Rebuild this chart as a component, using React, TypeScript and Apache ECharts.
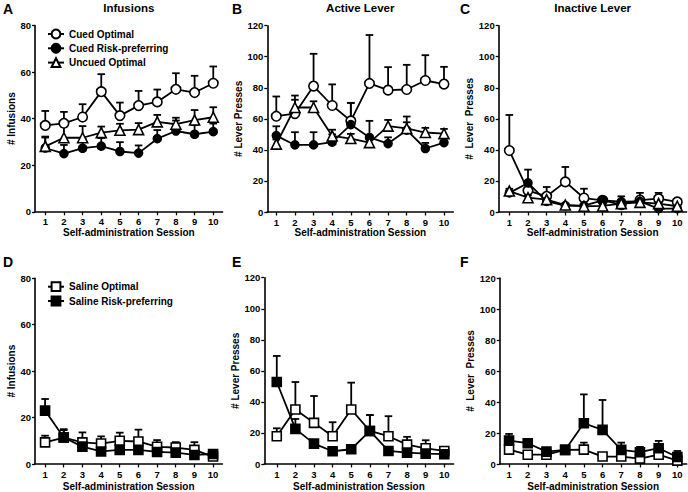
import React, { useEffect, useRef } from "react";
import * as echarts from "echarts";

// ---------- data ----------
const sessions = [1, 2, 3, 4, 5, 6, 7, 8, 9, 10];
const yMaxInfusions = 80;
const yMaxPresses = 120;
const yTickStep = 20;

// A: Infusions (cued groups)
const infCuedOptimal = [37.1, 38.0, 40.7, 51.6, 41.3, 45.6, 47.2, 52.6, 51.2, 55.2];
const infCuedOptimalSem = [6.2, 4.9, 5.5, 7.5, 5.6, 6.3, 5.3, 6.9, 7.2, 7.2];
const infCuedRisk = [27.4, 25.0, 27.3, 28.2, 25.9, 25.2, 31.4, 34.7, 33.3, 34.4];
const infCuedRiskSem = [4.5, 3.7, 4.0, 3.5, 4.0, 3.3, 3.7, 4.5, 4.0, 3.5];
const infUncuedOptimal = [28.1, 31.8, 31.8, 34.0, 35.0, 35.3, 38.6, 37.6, 39.4, 40.6];
const infUncuedOptimalSem = [4.2, 4.8, 5.0, 2.6, 2.8, 2.8, 3.0, 2.8, 4.3, 4.3];

// B: Active lever (cued groups)
const actCuedOptimal = [61.7, 63.4, 81.1, 68.6, 58.7, 82.8, 78.5, 78.9, 84.7, 82.4];
const actCuedOptimalSem = [12.7, 11.6, 20.8, 13.6, 11.6, 31.2, 14.8, 15.9, 16.3, 11.1];
const actCuedRisk = [49.2, 43.2, 43.2, 45.0, 56.3, 48.0, 44.1, 52.7, 40.9, 44.7];
const actCuedRiskSem = [6.0, 8.2, 8.2, 5.0, 14.0, 10.7, 4.0, 8.8, 3.6, 3.5];
const actUncuedOptimal = [43.7, 67.3, 67.3, 49.0, 47.3, 44.7, 55.3, 53.8, 51.2, 50.5];
const actUncuedOptimalSem = [3.0, 5.0, 4.0, 4.0, 3.0, 3.0, 4.0, 4.0, 3.0, 3.0];

// C: Inactive lever (cued groups)
const inactCuedOptimal = [39.6, 13.8, 10.1, 19.4, 9.0, 7.5, 4.7, 7.7, 8.6, 6.5];
const inactCuedOptimalSem = [22.9, 3.0, 6.0, 9.6, 6.0, 2.0, 2.0, 4.6, 3.7, 1.9];
const inactCuedRisk = [12.3, 18.7, 6.9, 4.1, 4.1, 7.5, 6.7, 6.9, 2.2, 2.2];
const inactCuedRiskSem = [1.5, 8.6, 1.5, 1.0, 1.0, 2.2, 3.4, 1.5, 1.0, 1.0];
const inactUncuedOptimal = [13.5, 9.2, 8.0, 4.5, 3.7, 3.9, 5.4, 6.2, 5.4, 3.7];
const inactUncuedOptimalSem = [1.5, 1.5, 1.0, 1.0, 1.0, 1.0, 1.0, 1.5, 1.0, 1.0];

// D: Infusions (saline groups)
const infSalineOptimal = [9.3, 11.4, 9.3, 8.8, 10.0, 9.7, 7.4, 7.1, 6.1, 3.2];
const infSalineOptimalSem = [2.9, 3.6, 4.3, 3.1, 3.5, 5.1, 2.9, 2.3, 3.3, 1.0];
const infSalineRisk = [23.0, 11.4, 7.5, 5.4, 6.1, 6.1, 5.2, 4.9, 3.9, 4.3];
const infSalineRiskSem = [5.0, 3.2, 1.0, 1.0, 1.0, 1.0, 1.0, 1.0, 1.0, 1.0];

// E: Active lever (saline groups)
const actSalineOptimal = [17.9, 35.1, 26.5, 17.9, 35.1, 21.3, 17.9, 12.5, 10.1, 8.4];
const actSalineOptimalSem = [5.1, 17.7, 17.3, 9.0, 17.3, 10.2, 12.9, 5.0, 5.2, 1.5];
const actSalineRisk = [52.8, 22.6, 13.1, 8.2, 9.5, 21.3, 8.4, 7.3, 6.7, 6.3];
const actSalineRiskSem = [16.8, 6.4, 1.5, 2.8, 1.0, 10.2, 1.0, 1.0, 1.0, 1.0];

// F: Inactive lever (saline groups)
const inactSalineOptimal = [9.3, 6.0, 6.0, 9.1, 9.3, 4.8, 4.8, 3.5, 6.0, 2.2];
const inactSalineOptimalSem = [1.5, 1.0, 1.0, 1.0, 4.5, 1.0, 1.0, 1.0, 1.0, 1.0];
const inactSalineRisk = [15.1, 13.4, 8.0, 9.1, 26.3, 22.0, 9.1, 7.6, 10.2, 4.5];
const inactSalineRiskSem = [4.3, 1.5, 1.0, 1.0, 18.6, 19.3, 4.7, 3.4, 4.7, 3.9];

const cuedLegend = ["Cued Optimal", "Cued Risk-preferring", "Uncued Optimal"];
const salineLegend = ["Saline Optimal", "Saline Risk-preferring"];
const xAxisTitle = "Self-administration Session";

// ---------- styling / layout ----------
const FONT = "'Liberation Sans', Arial, Helvetica, sans-serif";
const BLACK = "#000";
const LINE_W = 1.8;

const markerStyles: Record<string, { symbol: string; size: number; fill: string }> = {
  openCircle: { symbol: "circle", size: 9.5, fill: "#fff" },
  filledCircle: { symbol: "circle", size: 8, fill: BLACK },
  openTriangle: { symbol: "triangle", size: 10, fill: "#fff" },
  openSquare: { symbol: "rect", size: 9, fill: "#fff" },
  filledSquare: { symbol: "rect", size: 9, fill: BLACK },
};

type SeriesSpec = { name: string; mean: number[]; sem: number[]; marker: string };
type PanelSpec = {
  letter: string;
  letterPos: [number, number];
  title?: string;
  yName: string;
  yMax: number;
  grid: { left: number; top: number; width: number; height: number };
  xMin: number;
  yNameGap: number;
  xNameGap: number;
  series: SeriesSpec[];
};

const panels: PanelSpec[] = [
  {
    letter: "A", letterPos: [3, 2], title: "Infusions", yName: "# Infusions", yMax: yMaxInfusions,
    grid: { left: 35, top: 25.5, width: 187.6, height: 186.3 }, xMin: 0.45, yNameGap: 18, xNameGap: 14,
    series: [
      { name: cuedLegend[0], mean: infCuedOptimal, sem: infCuedOptimalSem, marker: "openCircle" },
      { name: cuedLegend[1], mean: infCuedRisk, sem: infCuedRiskSem, marker: "filledCircle" },
      { name: cuedLegend[2], mean: infUncuedOptimal, sem: infUncuedOptimalSem, marker: "openTriangle" },
    ],
  },
  {
    letter: "B", letterPos: [232, 2], title: "Active Lever", yName: "# Lever Presses", yMax: yMaxPresses,
    grid: { left: 267.3, top: 25.7, width: 186, height: 186.3 }, xMin: 0.517, yNameGap: 20, xNameGap: 14,
    series: [
      { name: cuedLegend[0], mean: actCuedOptimal, sem: actCuedOptimalSem, marker: "openCircle" },
      { name: cuedLegend[1], mean: actCuedRisk, sem: actCuedRiskSem, marker: "filledCircle" },
      { name: cuedLegend[2], mean: actUncuedOptimal, sem: actUncuedOptimalSem, marker: "openTriangle" },
    ],
  },
  {
    letter: "C", letterPos: [460, 2], title: "Inactive Lever", yName: "#  Lever  Presses", yMax: yMaxPresses,
    grid: { left: 498.7, top: 25.7, width: 187.9, height: 186.3 }, xMin: 0.43, yNameGap: 22, xNameGap: 14,
    series: [
      { name: cuedLegend[0], mean: inactCuedOptimal, sem: inactCuedOptimalSem, marker: "openCircle" },
      { name: cuedLegend[1], mean: inactCuedRisk, sem: inactCuedRiskSem, marker: "filledCircle" },
      { name: cuedLegend[2], mean: inactUncuedOptimal, sem: inactUncuedOptimalSem, marker: "openTriangle" },
    ],
  },
  {
    letter: "D", letterPos: [3, 255], yName: "# Infusions", yMax: yMaxInfusions,
    grid: { left: 35, top: 278.3, width: 187.4, height: 186 }, xMin: 0.46, yNameGap: 18, xNameGap: 17,
    series: [
      { name: salineLegend[0], mean: infSalineOptimal, sem: infSalineOptimalSem, marker: "openSquare" },
      { name: salineLegend[1], mean: infSalineRisk, sem: infSalineRiskSem, marker: "filledSquare" },
    ],
  },
  {
    letter: "E", letterPos: [232, 255], yName: "# Lever Presses", yMax: yMaxPresses,
    grid: { left: 264.3, top: 277.7, width: 189.3, height: 186.6 }, xMin: 0.33, yNameGap: 17, xNameGap: 17,
    series: [
      { name: salineLegend[0], mean: actSalineOptimal, sem: actSalineOptimalSem, marker: "openSquare" },
      { name: salineLegend[1], mean: actSalineRisk, sem: actSalineRiskSem, marker: "filledSquare" },
    ],
  },
  {
    letter: "F", letterPos: [460, 255], yName: "#  Lever  Presses", yMax: yMaxPresses,
    grid: { left: 499.7, top: 278, width: 187, height: 186.3 }, xMin: 0.5, yNameGap: 23, xNameGap: 17,
    series: [
      { name: salineLegend[0], mean: inactSalineOptimal, sem: inactSalineOptimalSem, marker: "openSquare" },
      { name: salineLegend[1], mean: inactSalineRisk, sem: inactSalineRiskSem, marker: "filledSquare" },
    ],
  },
];

function buildOption() {
  const grid: any[] = [];
  const xAxis: any[] = [];
  const yAxis: any[] = [];
  const series: any[] = [];
  const graphic: any[] = [];

  panels.forEach((p, pi) => {
    grid.push({ ...p.grid, containLabel: false });
    xAxis.push({
      type: "value",
      gridIndex: pi,
      min: p.xMin,
      max: 10.5,
      name: xAxisTitle,
      nameLocation: "middle",
      nameGap: p.xNameGap,
      nameTextStyle: { fontFamily: FONT, fontWeight: "bold", fontSize: 10, color: BLACK },
      axisLine: { show: true, onZero: false, lineStyle: { color: BLACK, width: 1.6 } },
      axisTick: { show: true, length: 3.5, customValues: sessions, lineStyle: { color: BLACK, width: 1.3 } },
      axisLabel: {
        show: true, customValues: sessions, margin: 5,
        fontFamily: FONT, fontWeight: "bold", fontSize: 9.5, color: BLACK,
      },
      splitLine: { show: false },
    });
    yAxis.push({
      type: "value",
      gridIndex: pi,
      min: 0,
      max: p.yMax,
      interval: yTickStep,
      name: p.yName,
      nameLocation: "middle",
      nameGap: p.yNameGap,
      nameTextStyle: { fontFamily: FONT, fontWeight: "bold", fontSize: 10, color: BLACK },
      axisLine: { show: true, onZero: false, lineStyle: { color: BLACK, width: 1.6 } },
      axisTick: { show: true, length: 3, lineStyle: { color: BLACK, width: 1.3 } },
      axisLabel: { margin: 4, fontFamily: FONT, fontWeight: "bold", fontSize: 9.5, color: BLACK },
      splitLine: { show: false },
    });

    p.series.forEach((s, si) => {
      const ms = markerStyles[s.marker];
      series.push({
        type: "custom",
        name: `${p.letter}-err-${si}`,
        xAxisIndex: pi,
        yAxisIndex: pi,
        z: 1,
        silent: true,
        data: sessions.map((x, i) => [x, s.mean[i], s.mean[i] + s.sem[i]]),
        encode: { x: 0, y: [1, 2] },
        renderItem: (_params: any, api: any) => {
          const x = api.value(0);
          const p0 = api.coord([x, api.value(1)]);
          const p1 = api.coord([x, api.value(2)]);
          const st = { stroke: BLACK, lineWidth: LINE_W };
          return {
            type: "group",
            children: [
              { type: "line", shape: { x1: p0[0], y1: p0[1], x2: p1[0], y2: p1[1] }, style: st },
              { type: "line", shape: { x1: p1[0] - 3.8, y1: p1[1], x2: p1[0] + 3.8, y2: p1[1] }, style: st },
            ],
          };
        },
      });
      series.push({
        type: "line",
        name: s.name,
        xAxisIndex: pi,
        yAxisIndex: pi,
        z: 2 + si,
        data: sessions.map((x, i) => [x, s.mean[i]]),
        symbol: ms.symbol,
        symbolSize: ms.size,
        showAllSymbol: true,
        lineStyle: { color: BLACK, width: LINE_W },
        itemStyle: { color: ms.fill, borderColor: BLACK, borderWidth: 1.6 },
        emphasis: { disabled: true },
      });
    });

    graphic.push({
      type: "text",
      left: p.letterPos[0],
      top: p.letterPos[1],
      style: { text: p.letter, fontFamily: FONT, fontWeight: "bold", fontSize: 14, fill: BLACK },
    });
    if (p.title) {
      graphic.push({
        type: "text",
        x: p.grid.left + p.grid.width / 2,
        y: 7.5,
        style: {
          text: p.title, fontFamily: FONT, fontWeight: "bold", fontSize: 11.5, fill: BLACK,
          align: "center", verticalAlign: "middle",
        },
      });
    }
  });

  const legendBase = {
    orient: "vertical",
    selectedMode: false,
    itemWidth: 16,
    itemHeight: 11,
    itemGap: 2.3,
    textStyle: { fontFamily: FONT, fontWeight: "bold", fontSize: 10, color: BLACK, lineHeight: 12 },
  };

  return {
    animation: false,
    backgroundColor: "#fff",
    grid,
    xAxis,
    yAxis,
    series,
    graphic,
    legend: [
      { ...legendBase, data: cuedLegend, left: 42, top: 23 },
      { ...legendBase, data: salineLegend, left: 42, top: 275.7 },
    ],
  };
}

export default function App() {
  const ref = useRef<HTMLDivElement>(null);
  useEffect(() => {
    if (!ref.current) return;
    const chart = echarts.init(ref.current, undefined, { renderer: "svg" });
    chart.setOption(buildOption() as any);
    return () => chart.dispose();
  }, []);
  return (
    <div
      ref={ref}
      style={{ position: "absolute", left: 0, top: 0, width: 688, height: 492, background: "#fff" }}
    />
  );
}
